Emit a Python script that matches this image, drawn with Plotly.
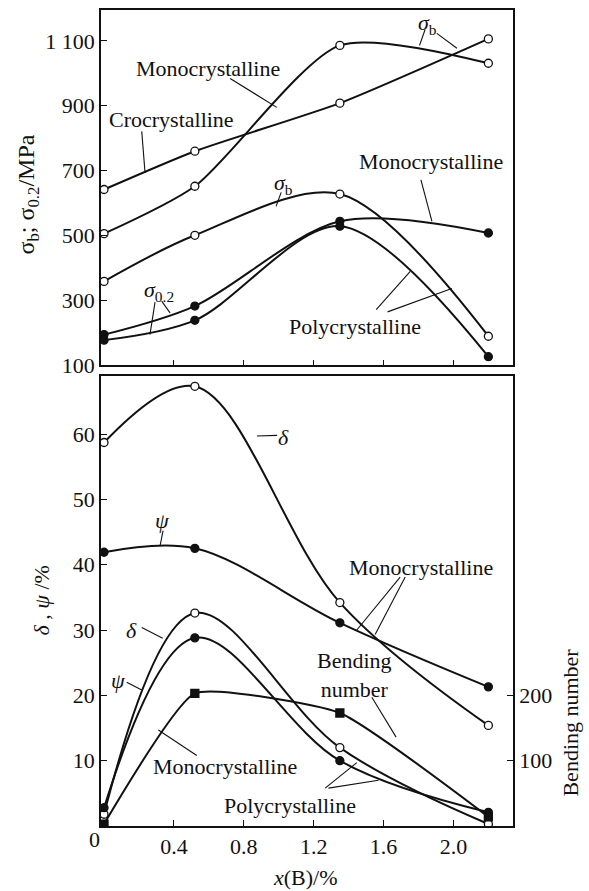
import plotly.graph_objects as go

# Boron content, x(B) / %
boron = [0, 0.52, 1.35, 2.2]

# Strength, MPa
sigma_b_croc = [642, 760, 908, 1106]
sigma_b_mono = [506, 652, 1086, 1031]
sigma_b_poly = [359, 501, 628, 190]
sigma_02_mono = [195, 283, 544, 508]
sigma_02_poly = [178, 239, 529, 127]

# Ductility, %
delta_mono = [58.7, 67.3, 34.2, 15.4]
psi_mono = [41.9, 42.5, 31.1, 21.3]
delta_poly = [1.8, 32.6, 12.0, 0.3]
psi_poly = [2.8, 28.8, 10.0, 2.1]

# Bending number
bending = [3, 203, 173, 14]

x_ticks = [0.4, 0.8, 1.2, 1.6, 2.0]
x_ticklabels = ["0.4", "0.8", "1.2", "1.6", "2.0"]
strength_ticks = [100, 300, 500, 700, 900, 1100]
strength_ticklabels = ["100", "300", "500", "700", "900", "1 100"]
ductility_ticks = [10, 20, 30, 40, 50, 60]
bending_ticks = [100, 200]

FONT = "Times New Roman, Liberation Serif, Tinos, DejaVu Serif, serif"
FS = 22
INK = "#111111"

fig = go.Figure()


def curve(y, filled, xa, ya, symbol="circle", name="", smoothing=1.0):
    fig.add_trace(go.Scatter(
        x=boron, y=y, xaxis=xa, yaxis=ya, name=name,
        mode="lines+markers",
        line=dict(color=INK, width=2, shape="spline", smoothing=smoothing),
        marker=dict(symbol=symbol, size=8,
                    color=INK if filled else "white",
                    line=dict(color=INK, width=1.3)),
        showlegend=False, hoverinfo="skip",
    ))


# upper panel: strength
curve(sigma_b_croc, False, "x", "y", name="Crocrystalline σb", smoothing=0.6)
curve(sigma_b_mono, False, "x", "y", name="Monocrystalline σb", smoothing=0.7)
curve(sigma_b_poly, False, "x", "y", name="Polycrystalline σb", smoothing=0.9)
curve(sigma_02_mono, True, "x", "y", name="Monocrystalline σ0.2", smoothing=0.9)
curve(sigma_02_poly, True, "x", "y", name="Polycrystalline σ0.2", smoothing=0.9)

# lower panel: elongation, reduction of area, bending number
curve(delta_mono, False, "x2", "y2", name="Monocrystalline δ")
curve(psi_mono, True, "x2", "y2", name="Monocrystalline ψ")
curve(delta_poly, False, "x2", "y2", name="Polycrystalline δ")
curve(psi_poly, True, "x2", "y2", name="Polycrystalline ψ")
curve(bending, True, "x2", "y3", symbol="square", name="Bending number",
      smoothing=0.45)

annotations = []
shapes = []


def label(text, x, y, xref, yref, size=FS, **kw):
    annotations.append(dict(text=text, x=x, y=y, xref=xref, yref=yref,
                            showarrow=False, xanchor="center", yanchor="middle",
                            font=dict(family=FONT, size=size, color=INK), **kw))


def leader(x0, y0, x1, y1, xref, yref):
    shapes.append(dict(type="line", x0=x0, y0=y0, x1=x1, y1=y1,
                       xref=xref, yref=yref,
                       line=dict(color=INK, width=1.1)))


# labels for the strength panel
label("Monocrystalline", 0.598, 1016, "x", "y")
leader(0.722, 984, 0.989, 895, "x", "y")
label("Crocrystalline", 0.387, 858, "x", "y")
leader(0.216, 821, 0.235, 693, "x", "y")
label("<i>σ</i><sub>b</sub>", 1.850, 1153, "x", "y")
leader(1.838, 1135, 1.806, 1086, "x", "y")
leader(1.905, 1123, 2.020, 1077, "x", "y")
label("<i>σ</i><sub>b</sub>", 1.025, 658, "x", "y")
leader(1.014, 633, 0.985, 590, "x", "y")
label("Monocrystalline", 1.870, 729, "x", "y")
leader(1.814, 672, 1.877, 544, "x", "y")
label("<i>σ</i><sub>0.2</sub>", 0.315, 329, "x", "y")
leader(0.292, 295, 0.263, 195, "x", "y")
leader(0.330, 298, 0.378, 262, "x", "y")
label("Polycrystalline", 1.436, 221, "x", "y")
leader(1.558, 272, 1.753, 390, "x", "y")
leader(1.623, 265, 1.991, 337, "x", "y")

# labels for the ductility panel
label("<i>δ</i>", 1.027, 59.4, "x2", "y2")
leader(0.875, 59.7, 0.991, 59.8, "x2", "y2")
label("<i>ψ</i>", 0.334, 46.7, "x2", "y2")
leader(0.338, 45.2, 0.321, 42.9, "x2", "y2")
label("Monocrystalline", 1.816, 39.6, "x2", "y2")
leader(1.695, 38.1, 1.447, 30.0, "x2", "y2")
leader(1.724, 38.1, 1.552, 29.3, "x2", "y2")
label("Bending<br>number", 1.432, 23.05, "x2", "y2")
leader(1.533, 19.7, 1.672, 13.6, "x2", "y2")
label("<i>δ</i>", 0.159, 30.0, "x2", "y2")
leader(0.216, 30.4, 0.336, 28.75, "x2", "y2")
label("<i>ψ</i>", 0.082, 22.3, "x2", "y2")
leader(0.130, 22.0, 0.216, 20.8, "x2", "y2")
label("Monocrystalline", 0.695, 9.05, "x2", "y2")
leader(0.311, 14.7, 0.531, 10.8, "x2", "y2")
label("Polycrystalline", 1.065, 3.2, "x2", "y2")
leader(1.266, 5.8, 1.447, 9.7, "x2", "y2")
leader(1.285, 5.8, 1.571, 7.0, "x2", "y2")

# origin label and axis titles
label("0", -0.0146, -0.0171, "paper", "paper")
label("σ<sub>b</sub>; σ<sub>0.2</sub>/MPa", -0.1773, 0.7738,
      "paper", "paper", size=24, textangle=-90)
label("<i>δ</i> , <i>ψ</i> /%", -0.1433, 0.2763, "paper", "paper", textangle=-90)
label("Bending number", 1.139, 0.1271, "paper", "paper", textangle=-90)
label("<i>x</i>(B)/%", 0.4955, -0.0636, "paper", "paper")

x_range = [-0.0172, 2.341]
frame = dict(showline=True, linecolor=INK, linewidth=1.6, mirror=True,
             ticks="inside", ticklen=6, tickwidth=1.2, tickcolor=INK,
             showgrid=False, zeroline=False)
tickfont = dict(family=FONT, size=FS, color=INK)

fig.update_layout(
    width=589, height=891,
    margin=dict(l=101, r=76, t=8, b=65),
    paper_bgcolor="white", plot_bgcolor="white",
    font=dict(family=FONT, size=FS, color=INK),
    showlegend=False,
    xaxis=dict(domain=[0, 1], anchor="y", range=x_range,
               tickvals=x_ticks, showticklabels=False, **frame),
    yaxis=dict(domain=[0.5644, 1], anchor="x", range=[100, 1195],
               tickvals=strength_ticks, ticktext=strength_ticklabels,
               tickfont=tickfont, **frame),
    xaxis2=dict(domain=[0, 1], anchor="y2", range=x_range,
                tickvals=x_ticks, ticktext=x_ticklabels,
                tickfont=tickfont, **frame),
    yaxis2=dict(domain=[0, 0.5513], anchor="x2", range=[0, 68.86],
                tickvals=ductility_ticks, tickfont=tickfont, **frame),
    yaxis3=dict(overlaying="y2", side="right", anchor="x2", range=[0, 688.6],
                tickvals=bending_ticks, tickfont=tickfont,
                showline=True, linecolor=INK, linewidth=1.6,
                ticks="inside", ticklen=6, tickwidth=1.2, tickcolor=INK,
                showgrid=False, zeroline=False),
    annotations=annotations,
    shapes=shapes,
)

fig.write_html("out.html")
